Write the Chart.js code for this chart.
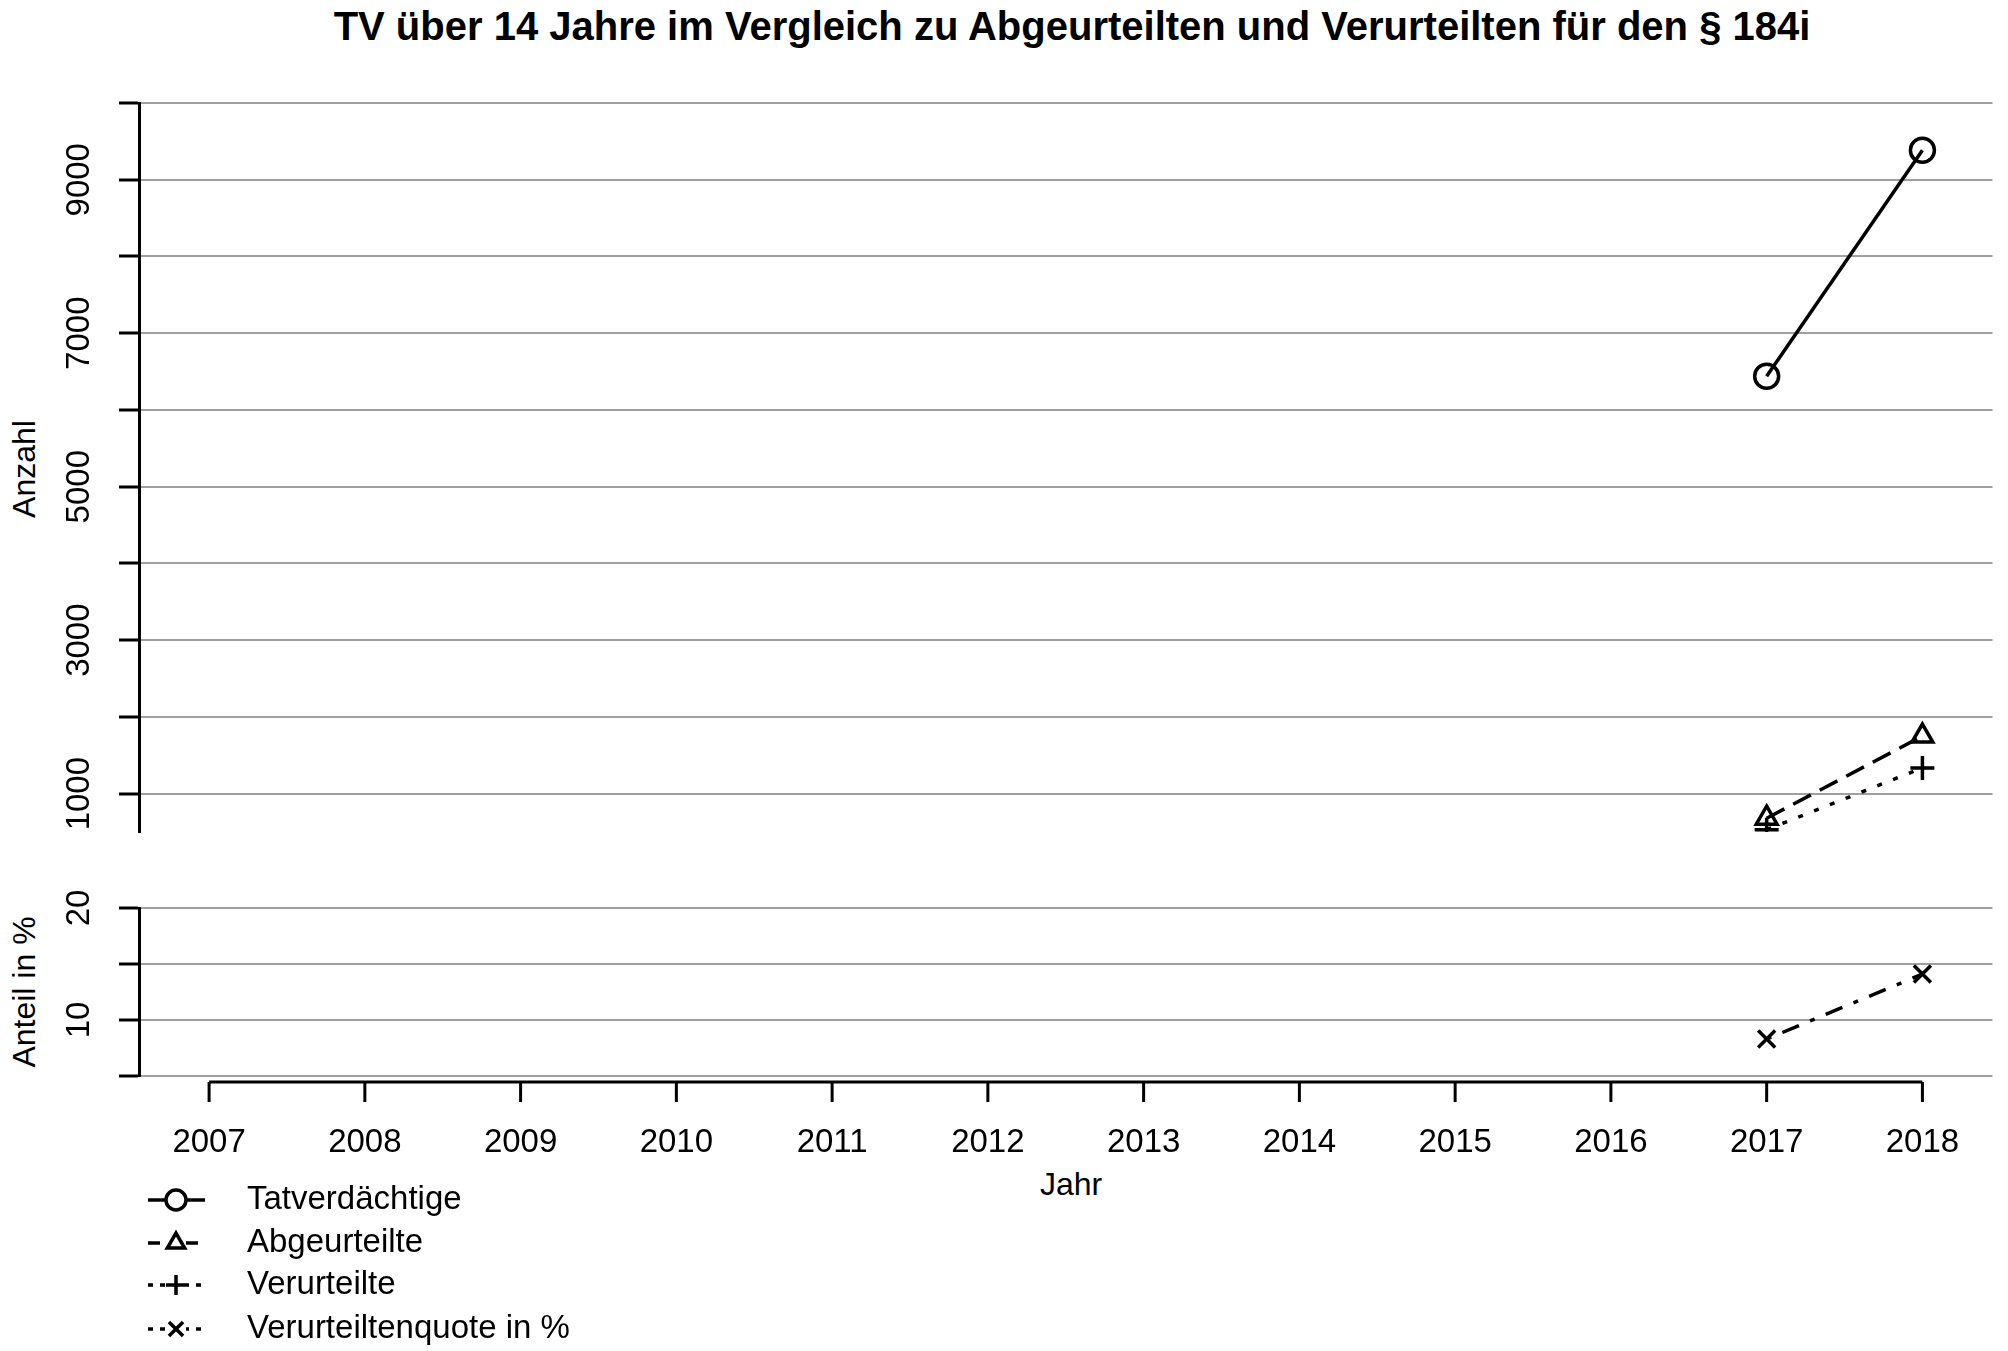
<!DOCTYPE html>
<html><head><meta charset="utf-8">
<script src="https://cdn.jsdelivr.net/npm/chart.js@4"></script>
<style>
body{margin:0;width:2008px;height:1351px;background:#fff;position:relative;overflow:hidden;font-family:"Liberation Sans",Arial,sans-serif}
canvas{position:absolute;left:0}
.t{position:absolute;white-space:nowrap;color:#000}
</style></head><body>
<div class="t" style="left:0;width:2144px;top:4px;text-align:center;font-weight:bold;font-size:40px">TV über 14 Jahre im Vergleich zu Abgeurteilten und Verurteilten für den § 184i</div>
<div class="t" style="left:24px;top:469px;font-size:32px;transform:translate(-50%,-50%) rotate(-90deg)">Anzahl</div>
<div class="t" style="left:24px;top:992px;font-size:32px;transform:translate(-50%,-50%) rotate(-90deg)">Anteil in %</div>
<div class="t" style="left:1071px;top:1184px;font-size:32px;transform:translate(-50%,-50%)">Jahr</div>
<canvas id="c1" width="2008" height="860" style="top:0"></canvas>
<canvas id="c2" width="2008" height="491" style="top:860px"></canvas>
<script>
const years = [2007,2008,2009,2010,2011,2012,2013,2014,2015,2016,2017,2018];
const dataYears = [2017, 2018];
const tatverdaechtige = [6440, 9385];
const abgeurteilte = [680, 1750];
const verurteilte = [530, 1335];
const quote = [8.3, 14.1];
const topTicks = [1000,2000,3000,4000,5000,6000,7000,8000,9000,10000];
const topLabels = [1000,3000,5000,7000,9000];
const botTicks = [5,10,15,20];
const botLabels = [10,20];
const legendNames = ["Tatverdächtige","Abgeurteilte","Verurteilte","Verurteiltenquote in %"];

const pts = v => dataYears.map((y,i)=>({x:y,y:v[i]}));
const styles = [
 {dash:[], pt:'circle'},
 {dash:[20,10], pt:'triangle'},
 {dash:[5,12], pt:'cross'},
 {dash:[5,12,18,12], pt:'crossRot'}
];
function ds(label, v, s){
  return {label, data:pts(v), borderColor:'#000', borderWidth:3.5, borderDash:s.dash,
    pointStyle:s.pt, pointRadius:12, pointBorderWidth:3.5, pointBackgroundColor:'rgba(0,0,0,0)', pointBorderColor:'#000', fill:false, tension:0};
}
const font = '33px "Liberation Sans", Arial, sans-serif';
function yScale(min,max,ticks){
  return {type:'linear', min, max,
    afterBuildTicks: s=>{ s.ticks = ticks.map(v=>({value:v})); },
    afterFit: s=>{ s.width = 20; },
    ticks:{display:false},
    grid:{color:'#a0a0a0', lineWidth:2, tickColor:'#000', tickLength:20, tickWidth:3},
    border:{display:true, color:'#000', width:3}};
}
const xScale = {type:'linear', min:2006.55, max:2018.45, display:false};
const yLabelPlugin = labels => ({id:'yl', afterDraw(ch){
  const c=ch.ctx, s=ch.scales.y; c.save(); c.font=font; c.fillStyle='#000'; c.textAlign='center'; c.textBaseline='middle';
  labels.forEach(v=>{ const p=s.getPixelForValue(v); c.save(); c.translate(80,p); c.rotate(-Math.PI/2); c.fillText(String(v),0,0); c.restore(); });
  c.restore();
}});
const common = {responsive:false, animation:false, plugins:{legend:{display:false}, tooltip:{enabled:false}}};

new Chart(document.getElementById('c1'), {type:'line',
  data:{datasets:[ds(legendNames[0],tatverdaechtige,styles[0]), ds(legendNames[1],abgeurteilte,styles[1]), ds(legendNames[2],verurteilte,styles[2])]},
  options:{...common, layout:{padding:{left:119,right:5,top:103,bottom:28}},
    scales:{x:xScale, y:yScale(500,10000,topTicks)}},
  plugins:[yLabelPlugin(topLabels)]});

const xAxisPlugin = {id:'xa', afterDraw(ch){
  const c=ch.ctx, s=ch.scales.x, y0=ch.chartArea.bottom+6;
  c.save(); c.strokeStyle='#000'; c.lineWidth=3; c.fillStyle='#000';
  c.beginPath(); c.moveTo(s.getPixelForValue(years[0]),y0); c.lineTo(s.getPixelForValue(years[years.length-1]),y0); c.stroke();
  c.font=font; c.textAlign='center'; c.textBaseline='middle';
  years.forEach(yr=>{ const p=s.getPixelForValue(yr); c.beginPath(); c.moveTo(p,y0); c.lineTo(p,y0+20); c.stroke(); c.fillText(String(yr),p,y0+61); });
  const rows=[340,383,425,469], x1=148, x2=205, xm=176;
  legendNames.forEach((n,i)=>{
    const st=styles[i], yy=rows[i];
    c.lineWidth=3.5;
    c.setLineDash(st.dash.length?[Math.min(st.dash[0],12),7]:[]);
    c.beginPath(); c.moveTo(x1,yy); c.lineTo(x2,yy); c.stroke(); c.setLineDash([]);
    c.fillStyle='#fff'; c.fillRect(xm-10,yy-11,20,22);
    c.strokeStyle='#000';
    Chart.helpers.drawPoint(c,{pointStyle:st.pt, radius:10, rotation:0, borderWidth:3.5}, xm, yy);
    c.fillStyle='#000';
    c.textAlign='left'; c.fillText(n,247,yy);
  });
  c.restore();
}};
new Chart(document.getElementById('c2'), {type:'line',
  data:{datasets:[ds(legendNames[3],quote,styles[3])]},
  options:{...common, layout:{padding:{left:119,right:5,top:48,bottom:275}},
    scales:{x:xScale, y:yScale(5,20,botTicks)}},
  plugins:[yLabelPlugin(botLabels), xAxisPlugin]});
</script></body></html>
